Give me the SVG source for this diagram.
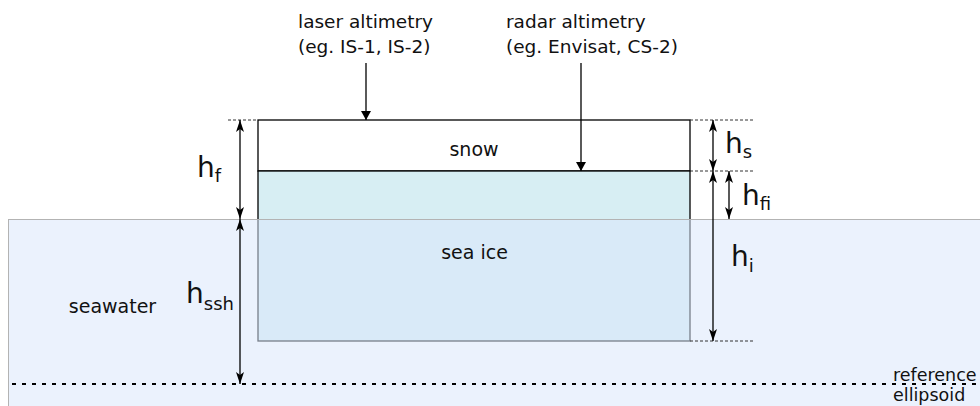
<svg xmlns="http://www.w3.org/2000/svg" width="980" height="406" viewBox="0 0 980 406">
<style>
text{font-family:"DejaVu Sans","Verdana",sans-serif;fill:#111}
.lbl{font-size:19px}
.top{font-size:18.5px}
.ref{font-size:17.5px}
.big{font-size:28px}
.sub{font-size:18px}
.dim{stroke:#000;stroke-width:1.3;fill:none}
.dash{stroke:#333;stroke-width:1;stroke-dasharray:3 2;fill:none}
</style>
<defs>
<marker id="ah" viewBox="0 0 12 8" refX="12" refY="4" markerWidth="12" markerHeight="8" markerUnits="userSpaceOnUse" orient="auto-start-reverse">
<path d="M0,0 L12,4 L0,8 L3,4 z" fill="#000"/>
</marker>
<marker id="tri" viewBox="0 0 9 10" refX="9" refY="5" markerWidth="9" markerHeight="10" markerUnits="userSpaceOnUse" orient="auto">
<path d="M0,0 L9,5 L0,10 z" fill="#000"/>
</marker>
</defs>
<rect width="980" height="406" fill="#fff"/>
<g id="snow">
<rect x="258" y="120" width="432" height="51" fill="#fff" stroke="#000" stroke-width="1.3"/>
<text class="lbl" x="474" y="156" text-anchor="middle">snow</text>
</g>
<g id="seaice">
<rect x="258" y="171" width="432" height="170" fill="#d7eef3" stroke="#000" stroke-width="1.3"/>
</g>
<g id="seawater">
<rect x="8.5" y="219.5" width="980" height="200" fill="#dae8fc" fill-opacity="0.55" stroke="#b3b3b3" stroke-width="1"/>
<text class="lbl" x="112.5" y="313" text-anchor="middle">seawater</text>
</g>
<text class="lbl" x="474.5" y="259" text-anchor="middle">sea ice</text>
<g id="refline">
<line x1="12" y1="384" x2="980" y2="384" stroke="#000" stroke-width="2" stroke-dasharray="4 6"/>
<text class="ref" x="893" y="381">reference</text>
<text class="ref" x="893" y="401">ellipsoid</text>
</g>
<g id="laser">
<text class="top" x="298" y="28">laser altimetry</text>
<text class="top" x="298" y="53">(eg. IS-1, IS-2)</text>
</g>
<g id="radar">
<text class="top" x="506" y="28">radar altimetry</text>
<text class="top" x="506" y="53">(eg. Envisat, CS-2)</text>
</g>
<g id="guides">
<line class="dash" x1="228" y1="120" x2="258" y2="120"/>
<line class="dash" x1="690" y1="120" x2="755" y2="120"/>
<line class="dash" x1="690" y1="171" x2="755" y2="171"/>
<line class="dash" x1="690" y1="341" x2="755" y2="341"/>
</g>
<g id="connectors">
<line class="dim" x1="366" y1="63" x2="366" y2="120" marker-end="url(#tri)"/>
<line class="dim" x1="581" y1="63" x2="581" y2="171" marker-end="url(#tri)"/>
<line class="dim" x1="240" y1="120" x2="240" y2="219" marker-start="url(#ah)" marker-end="url(#ah)"/>
<line class="dim" x1="240" y1="219" x2="240" y2="384" marker-start="url(#ah)" marker-end="url(#ah)"/>
<line class="dim" x1="713" y1="120" x2="713" y2="171" marker-start="url(#ah)" marker-end="url(#ah)"/>
<line class="dim" x1="729" y1="171" x2="729" y2="219" marker-start="url(#ah)" marker-end="url(#ah)"/>
<line class="dim" x1="713" y1="171" x2="713" y2="341" marker-start="url(#ah)" marker-end="url(#ah)"/>
</g>
<g id="labels">
<text x="197" y="177"><tspan class="big">h</tspan><tspan class="sub" dy="5">f</tspan></text>
<text x="186" y="303"><tspan class="big">h</tspan><tspan class="sub" dy="7">ssh</tspan></text>
<text x="725" y="153"><tspan class="big">h</tspan><tspan class="sub" dy="5">s</tspan></text>
<text x="742" y="205"><tspan class="big">h</tspan><tspan class="sub" dy="5">fi</tspan></text>
<text x="731" y="266"><tspan class="big">h</tspan><tspan class="sub" dy="6">i</tspan></text>
</g>
</svg>
